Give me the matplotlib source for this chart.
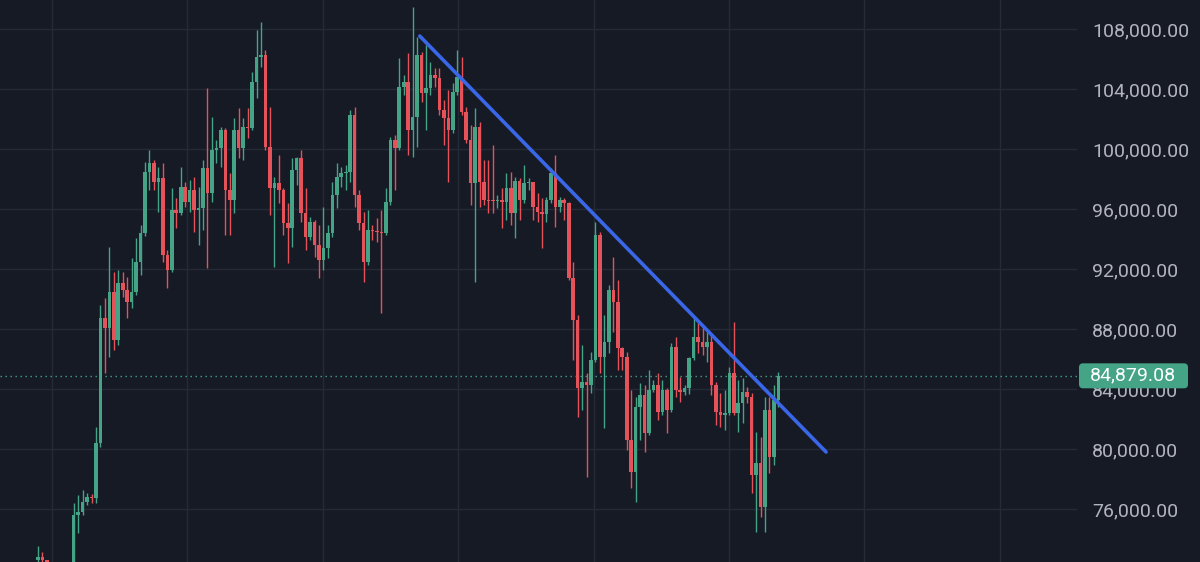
import matplotlib.pyplot as plt
from matplotlib.patches import FancyBboxPatch
from matplotlib.transforms import IdentityTransform
import numpy as np

# candle data (one candle per slot, open = previous close)
first_open = 72600
closes = [72800, 72600, 72070, 71800, 71930, 71530, 71670, 71400, 75600, 75800,
          76470, 76800, 76730, 80400, 88730, 88070, 90470, 87270, 91070, 90600,
          89800, 90470, 92470, 94400, 98470, 99070, 97800, 98070, 92930, 91930,
          95930, 95730, 97470, 96470, 97270, 95930, 96070, 98730, 97070, 99930,
          100070, 101270, 97270, 96600, 101270, 100070, 101470, 101400, 104470, 106130,
          106270, 100130, 97400, 97730, 97270, 95070, 94730, 98600, 99400, 95730,
          94130, 95130, 93600, 92600, 93400, 94400, 96930, 98130, 98400, 98470,
          102270, 96930, 95070, 92470, 94600, 94530, 94470, 94400, 96470, 100600,
          100070, 104130, 104470, 101270, 102130, 106270, 103730, 104070, 104930, 104730,
          102600, 102070, 101270, 103800, 104800, 102470, 100600, 97730, 101470, 97800,
          96600, 96530, 96500, 96600, 96470, 97400, 95730, 97870, 96600, 97730,
          97800, 96130, 95800, 95670, 96600, 98400, 96130, 96600, 96400, 91400,
          88600, 84070, 84470, 84270, 85930, 94270, 86130, 87130, 90600, 89800,
          86730, 86130, 80600, 78470, 82800, 83600, 81070, 83930, 84270, 82470,
          83930, 82600, 86800, 83930, 83800, 84070, 86070, 87470, 87130, 86800,
          87130, 84270, 82470, 82270, 82400, 85070, 82400, 83070, 83800, 83470,
          78270, 79070, 76130, 82600, 79470, 83270, 84879.08]
highs = [73530, 73130, 72600, 72200, 72070, 72000, 71930, 71930, 76400, 76930,
         77270, 77070, 77000, 81470, 89600, 90070, 93470, 91800, 91930, 91800,
         91470, 92730, 94070, 94930, 99130, 99930, 99270, 98800, 99070, 93270,
         97400, 96730, 98800, 97800, 97930, 98130, 97470, 99270, 104070, 102130,
         100600, 101470, 101400, 98400, 102070, 102730, 102070, 102730, 105130, 107930,
         108470, 106600, 102800, 98130, 99600, 97400, 96400, 99400, 99470, 99930,
         97400, 95470, 95270, 94930, 96130, 94930, 97800, 99070, 98800, 98930,
         102600, 102800, 97270, 95800, 95930, 94930, 95400, 95930, 97400, 100800,
         100930, 106070, 104930, 106400, 109470, 107470, 106470, 106930, 105800, 105400,
         105400, 103270, 103930, 104400, 106600, 106130, 102800, 101600, 102730, 101800,
         99270, 99270, 100270, 96930, 97400, 98400, 98470, 98130, 98070, 98930,
         98070, 97800, 97070, 96730, 96800, 98730, 99600, 96800, 96730, 96470,
         92470, 88930, 86930, 85070, 86470, 95130, 94470, 88930, 90930, 92800,
         91270, 86800, 86470, 83930, 83470, 84400, 84270, 85270, 84600, 85070,
         84600, 84070, 87070, 87470, 84800, 84270, 86130, 88800, 88600, 88130,
         87800, 87730, 84470, 83730, 83930, 85470, 88470, 84600, 84730, 84130,
         83730, 81130, 80800, 83470, 83470, 84270, 85130]
lows = [72200, 72270, 71800, 71400, 71270, 71130, 71000, 70730, 71270, 74400,
        75600, 76270, 76400, 76400, 80130, 85070, 86130, 86600, 86930, 90130,
        88730, 89400, 90270, 91600, 94200, 97270, 97270, 95800, 92470, 90730,
        91800, 94730, 95600, 96130, 95800, 94470, 93600, 94600, 92070, 96470,
        99070, 98800, 94270, 94270, 95730, 99400, 99270, 100730, 101270, 103400,
        105470, 99930, 95600, 92130, 96400, 94270, 92400, 93470, 97600, 95130,
        93270, 93930, 92800, 91400, 91930, 92730, 94130, 96070, 97470, 97270,
        97800, 96130, 94600, 91130, 92270, 93930, 93800, 89070, 94270, 96270,
        97270, 99930, 103600, 99600, 99470, 100130, 103130, 101270, 103600, 104130,
        102270, 100270, 97800, 101070, 103600, 102270, 100400, 96270, 91130, 96130,
        96270, 95730, 95730, 96070, 94730, 95270, 94930, 94070, 95270, 96400,
        97270, 95270, 95130, 93400, 95130, 96400, 94800, 95800, 95270, 91270,
        85930, 82130, 82600, 78130, 83730, 85800, 85070, 81400, 86400, 87800,
        85270, 85270, 79930, 77400, 76470, 80600, 79800, 80930, 83800, 81930,
        82270, 81070, 82470, 83470, 83130, 83600, 83670, 85930, 86400, 86270,
        85800, 83600, 81600, 81470, 81270, 82270, 82270, 81130, 81730, 83070,
        77070, 74470, 75470, 74470, 78400, 78930, 82800]

price_ticks = [76000, 80000, 84000, 88000, 92000, 96000, 100000, 104000, 108000]
last_price = 84879.08

# hand drawn trend line (candle index, price)
trend_x = [85.6, 176.7]
trend_y = [107530, 79800]

BG = '#161a25'
GRID = '#262a36'
UP = '#45a386'
DOWN = '#e5525a'
TXT = '#b2b5be'

opens = np.array([first_open] + closes[:-1])
closes = np.array(closes)
highs = np.maximum(np.array(highs), np.maximum(opens, closes))
lows = np.minimum(np.array(lows), np.minimum(opens, closes))
idx = np.arange(len(closes))
colors = np.where(closes >= opens, UP, DOWN)

W, H = 1200, 562
fig = plt.figure(figsize=(W / 100, H / 100), dpi=100, facecolor=BG)
ax = fig.add_axes([0, 0, 1077 / W, 1], facecolor=BG)

ax.vlines(idx, lows, highs, colors=colors, linewidth=1.0, zorder=2)
body = np.maximum(np.abs(closes - opens), 90)
ax.bar(idx, body, bottom=np.minimum(opens, closes), width=0.8, color=colors,
       linewidth=0, zorder=3)

ax.plot(trend_x, trend_y, color='#3a66e8', linewidth=2.6, solid_capstyle='round',
        zorder=4)
ax.axhline(last_price, color=UP, linestyle=(0, (1, 2.6)), linewidth=1.0, zorder=1)

ax.set_xlim(-8.52, 232.96)
ax.set_ylim(72467, 109933)

ax.set_xticks(3.14 + 30.36 * np.arange(8))
ax.set_yticks(price_ticks)
ax.set_yticklabels([f'{p:,.2f}' for p in price_ticks])
ax.grid(True, color=GRID, linewidth=1.0, zorder=0)
ax.set_axisbelow(True)
ax.yaxis.tick_right()
ax.tick_params(axis='y', length=0, pad=11, labelsize=14, labelcolor=TXT)
ax.tick_params(axis='x', length=0, labelbottom=False)
for lab in ax.get_yticklabels():
    lab.set_fontfamily('Roboto')
for s in ax.spines.values():
    s.set_visible(False)

# last price tag on the scale
y_disp = ax.transData.transform((0, last_price))[1]
tag = FancyBboxPatch((1079, y_disp - 12.5), 109, 25,
                     boxstyle='round,pad=0,rounding_size=4',
                     facecolor=UP, edgecolor='none', transform=IdentityTransform())
fig.patches.append(tag)
fig.text(1090 / W, y_disp / H, f'{last_price:,.2f}', ha='left', va='center',
         color='white', fontsize=14, family='Roboto', zorder=5)

fig.savefig('out.png', dpi=100, facecolor=BG)
